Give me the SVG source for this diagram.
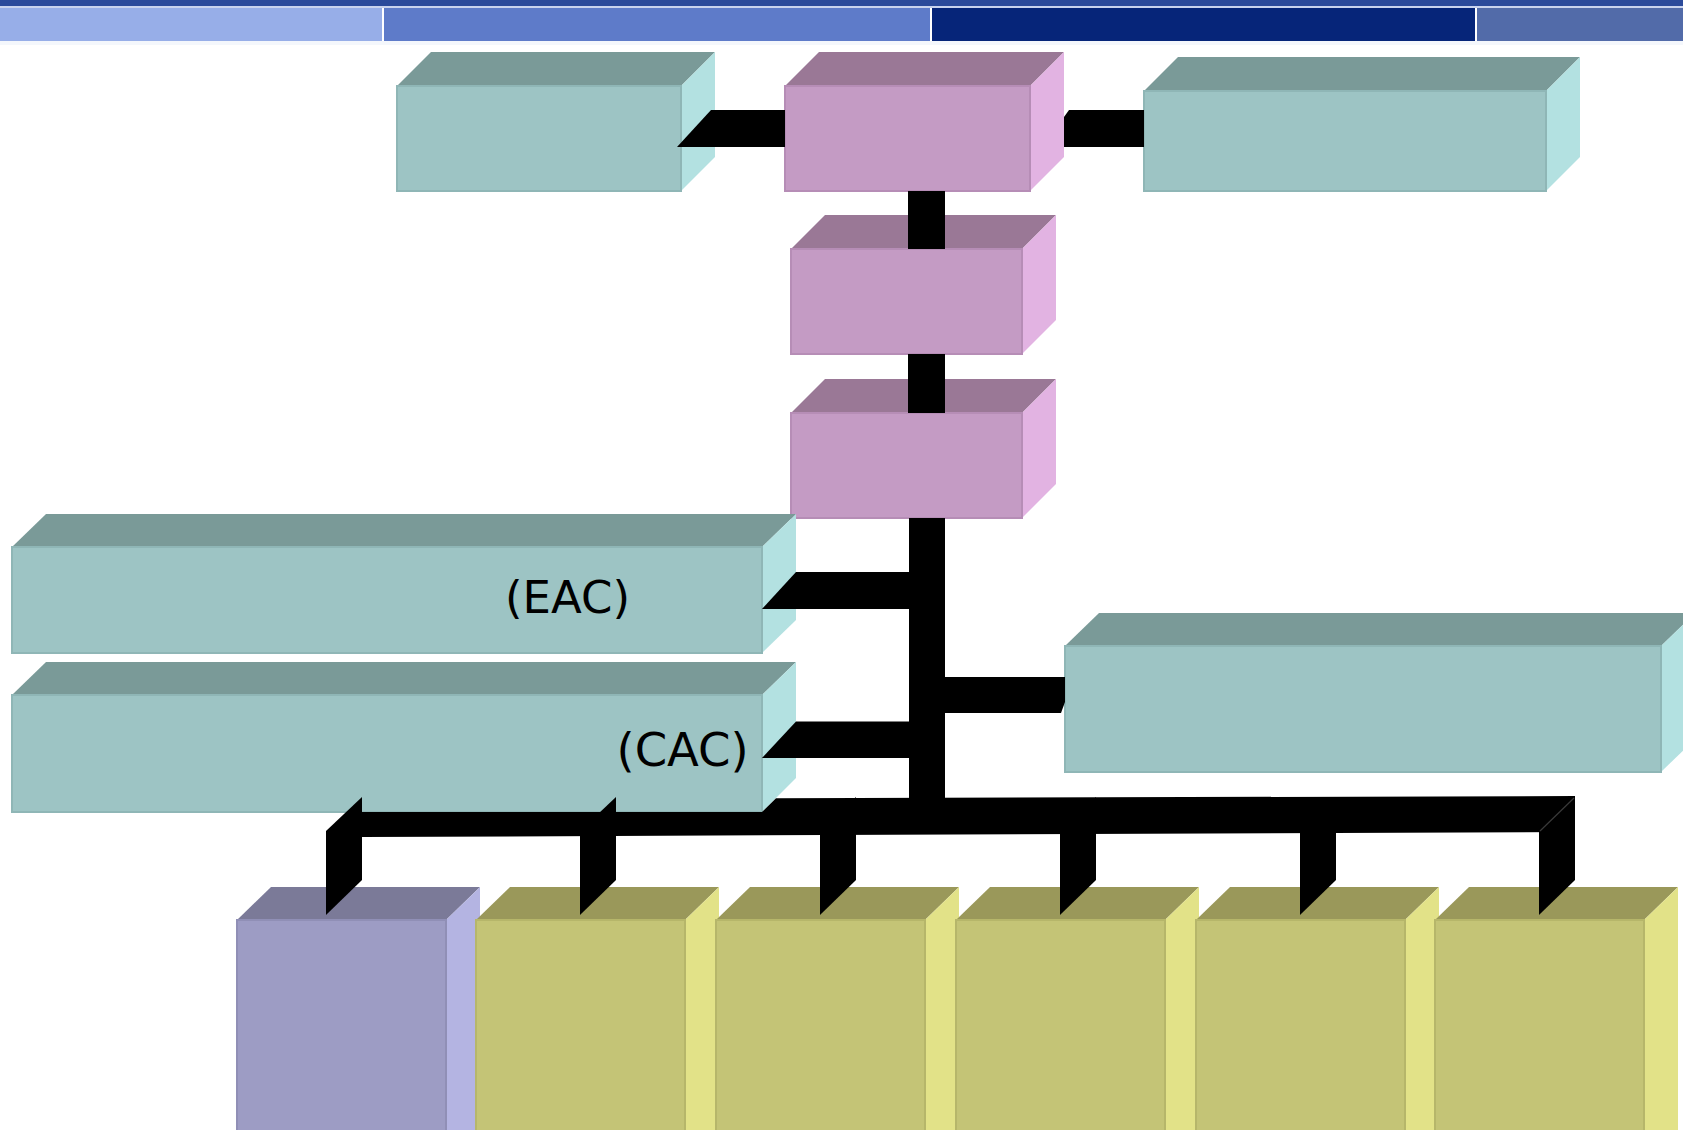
<svg xmlns="http://www.w3.org/2000/svg" width="1683" height="1130" viewBox="0 0 1683 1130">
<style>
.tf{fill:#9DC4C4;stroke:#8FB6B6;stroke-width:2}
.tt{fill:#7A9A98}
.ts{fill:#B3E1E1}
.pf{fill:#C49BC4;stroke:#B68DB6;stroke-width:2}
.pt{fill:#9A7896}
.ps{fill:#E2B3E2}
.vf{fill:#9D9CC4;stroke:#908FB6;stroke-width:2}
.vt{fill:#7B7A98}
.vs{fill:#B4B4E2}
.yf{fill:#C4C476;stroke:#B6B66A;stroke-width:2}
.yt{fill:#9A985A}
.ys{fill:#E2E288}
.k{fill:#000}
.lbl{font-family:"DejaVu Sans",Verdana,sans-serif;font-size:45px;fill:#000}
</style>
<rect x="0" y="0" width="1683" height="1130" fill="#fff"/>
<g id="header">
<rect x="0" y="0" width="1683" height="6" fill="#2B4A9B"/>
<rect x="0" y="6" width="1683" height="2" fill="#C9D3EE"/>
<rect x="0" y="8" width="382" height="33" fill="#97AEE8"/>
<rect x="384" y="8" width="546" height="33" fill="#5E7BC9"/>
<rect x="932" y="8" width="543" height="33" fill="#062579"/>
<rect x="1477" y="8" width="206" height="33" fill="#526BA9"/>
<rect x="0" y="41" width="1683" height="4" fill="#F4F7FC"/>
</g>
<g id="nodeA">
<polygon class="tt" points="397,86 431,52 715,52 681,86"/>
<polygon class="ts" points="681,86 715,52 715,157 681,191"/>
<rect class="tf" x="397" y="86" width="284" height="105"/>
</g>
<g id="nodeB">
<polygon class="pt" points="785,86 819,52 1064,52 1030,86"/>
<polygon class="ps" points="1030,86 1064,52 1064,157 1030,191"/>
<rect class="pf" x="785" y="86" width="245" height="105"/>
</g>
<g id="nodeC">
<polygon class="tt" points="1144,91 1178,57 1580,57 1546,91"/>
<polygon class="ts" points="1546,91 1580,57 1580,157 1546,191"/>
<rect class="tf" x="1144" y="91" width="402" height="100"/>
</g>
<g id="nodeD">
<polygon class="pt" points="791,249 825,215 1056,215 1022,249"/>
<polygon class="ps" points="1022,249 1056,215 1056,320 1022,354"/>
<rect class="pf" x="791" y="249" width="231" height="105"/>
</g>
<g id="nodeE">
<polygon class="pt" points="791,413 825,379 1056,379 1022,413"/>
<polygon class="ps" points="1022,413 1056,379 1056,484 1022,518"/>
<rect class="pf" x="791" y="413" width="231" height="105"/>
</g>
<g id="nodeF">
<polygon class="tt" points="12,547 46,514 796,514 762,547"/>
<polygon class="ts" points="762,547 796,514 796,620 762,653"/>
<rect class="tf" x="12" y="547" width="750" height="106"/>
<text class="lbl" x="505" y="613">(EAC)</text>
</g>
<g id="nodeH">
<polygon class="tt" points="1065,646 1099,613 1695,613 1661,646"/>
<polygon class="ts" points="1661,646 1695,613 1695,739 1661,772"/>
<rect class="tf" x="1065" y="646" width="596" height="126"/>
</g>
<g id="nodeG">
<polygon class="tt" points="12,695 46,662 796,662 762,695"/>
<polygon class="ts" points="762,695 796,662 796,778 762,812"/>
<rect class="tf" x="12" y="695" width="750" height="117"/>
<text class="lbl" x="616.5" y="766" style="font-size:46.5px">(CAC)</text>
</g>
<g id="node1">
<polygon class="vt" points="237,920 271,887 480,887 446,920"/>
<polygon class="vs" points="446,920 480,887 480,1140 446,1140"/>
<rect class="vf" x="237" y="920" width="209" height="220"/>
</g>
<g id="node2">
<polygon class="yt" points="476,920 510,887 719,887 685,920"/>
<polygon class="ys" points="685,920 719,887 719,1140 685,1140"/>
<rect class="yf" x="476" y="920" width="209" height="220"/>
</g>
<g id="node3">
<polygon class="yt" points="716,920 750,887 959,887 925,920"/>
<polygon class="ys" points="925,920 959,887 959,1140 925,1140"/>
<rect class="yf" x="716" y="920" width="209" height="220"/>
</g>
<g id="node4">
<polygon class="yt" points="956,920 990,887 1199,887 1165,920"/>
<polygon class="ys" points="1165,920 1199,887 1199,1140 1165,1140"/>
<rect class="yf" x="956" y="920" width="209" height="220"/>
</g>
<g id="node5">
<polygon class="yt" points="1196,920 1230,887 1439,887 1405,920"/>
<polygon class="ys" points="1405,920 1439,887 1439,1140 1405,1140"/>
<rect class="yf" x="1196" y="920" width="209" height="220"/>
</g>
<g id="node6">
<polygon class="yt" points="1435,920 1469,887 1678,887 1644,920"/>
<polygon class="ys" points="1644,920 1678,887 1678,1140 1644,1140"/>
<rect class="yf" x="1435" y="920" width="209" height="220"/>
</g>
<g id="connectors">
<polygon class="k" points="677,147 711,110 785,110 785,147"/>
<polygon class="k" points="1064,117 1069,110 1144,110 1144,147 1064,147"/>
<rect class="k" x="908" y="191" width="37" height="58"/>
<rect class="k" x="908" y="354" width="37" height="59"/>
<rect class="k" x="909" y="518" width="36" height="282"/>
<polygon class="k" points="762,609 796,572 909,572 909,609"/>
<polygon class="k" points="762,758 796,721.5 909,721.5 909,758"/>
<polygon class="k" points="945,677 1065,677 1065,702 1061,713 945,713"/>
<polygon class="k" points="362,812 762,812 776,798.3 1575,796 1575,832 362,837"/>
<polygon class="k" points="326,831 362,797 362,880 326,915"/>
<polygon class="k" points="580,831 616,797 616,880 580,915"/>
<polygon class="k" points="820,831 856,797 856,880 820,915"/>
<polygon class="k" points="1060,831 1096,797 1096,880 1060,915"/>
<polygon class="k" points="1300,831 1336,797 1336,880 1300,915"/>
<polygon class="k" points="1539,831 1575,797 1575,880 1539,915"/>
<line x1="1540" y1="831" x2="1574" y2="798" stroke="#3A3A3A" stroke-width="1.2"/>
</g>
</svg>
